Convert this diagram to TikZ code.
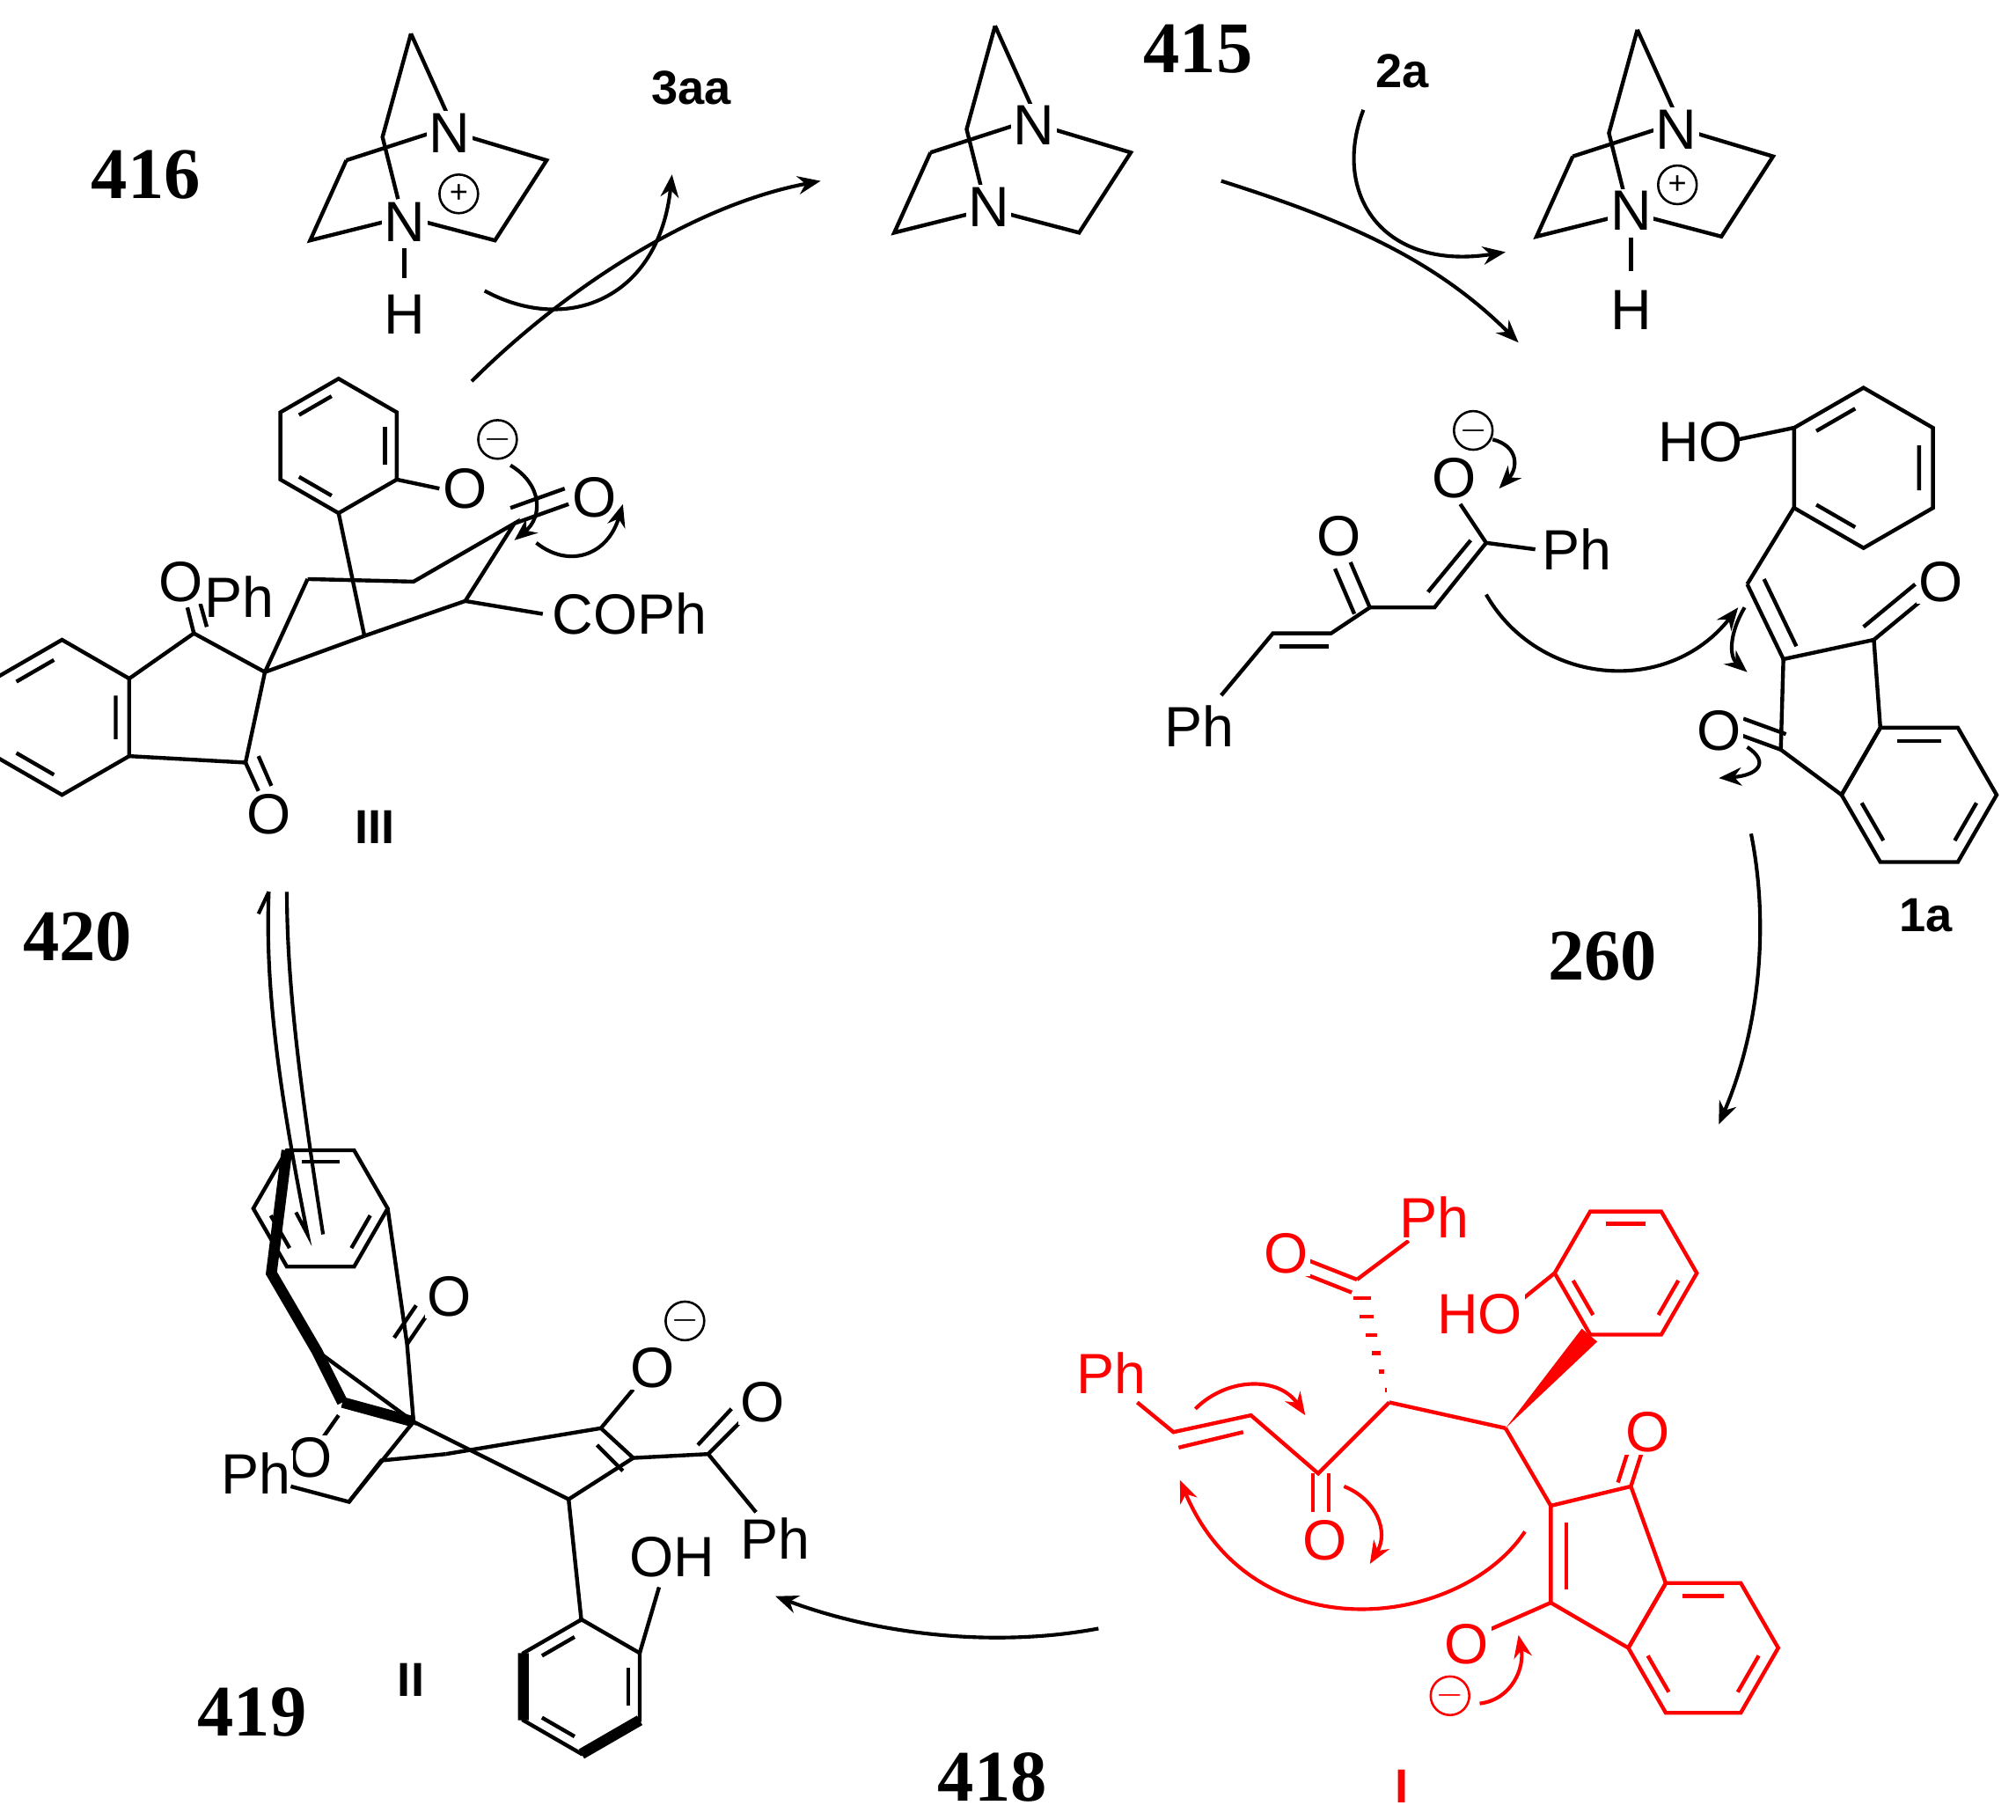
\documentclass[tikz,border=0pt]{standalone}
\usepackage{fontspec}
\setmainfont{Liberation Serif}
\setsansfont{Liberation Sans}
\usetikzlibrary{arrows.meta,calc}
\tikzset{
 bond/.style={line width=0.85pt},
 rb/.style={line width=0.85pt,red},
 thick bond/.style={line width=2.4pt},
 atom/.style={font=\sffamily\fontsize{12.5}{12.5}\selectfont,inner sep=0.5pt,fill=white},
 ratom/.style={atom,text=red},
 num/.style={font=\bfseries\fontsize{16}{16}\selectfont},
 lab/.style={font=\sffamily\bfseries\fontsize{10.5}{10.5}\selectfont},
 arr/.style={line width=0.8pt,-{Stealth[length=5pt,width=4pt]}},
 rarr/.style={arr,red},
 chg/.style={circle,draw,line width=0.5pt,inner sep=0pt,minimum size=8.5pt,font=\sffamily\fontsize{7}{7}\selectfont}
}
\newcommand\benz[5]{%
\begin{scope}[shift={(#1,#2)},rotate=#4]
\draw[#5] (0:#3)--(60:#3)--(120:#3)--(180:#3)--(240:#3)--(300:#3)--cycle;
\foreach \a in {0,120,240}{\draw[#5] ($(\a:0.8*#3)!0.15!(\a+60:0.8*#3)$)--($(\a+60:0.8*#3)!0.15!(\a:0.8*#3)$);}
\end{scope}}
\newcommand\dabco[1]{%
\begin{scope}[shift={#1}]
\draw[bond] (770,20)--(798,82) (770,20)--(748,100)--(760,148);
\draw[bond] (720,118)--(692,180)--(752,165) (720,118)--(785,97);
\draw[bond] (815,100)--(875,118)--(835,180)--(778,165);
\end{scope}}
\begin{document}
\begin{tikzpicture}[x=0.01cm,y=-0.01cm]
\useasboundingbox (0,0) rectangle (1560,1408);
% ---------- DABCO units ----------
\dabco{(0,0)}
\node[atom] (n415a) at (800,97) {N};
\node[atom] (n415b) at (765,160) {N};
\dabco{(-452,6)}
\node[atom] (n416a) at (348,103) {N};
\node[atom] (n416b) at (313,172) {N};
\node[chg] (p416) at (355,150) {+};
\draw[bond] (313,192)--(313,215);
\node[atom] (h416) at (313,243) {H};
\dabco{(497,3)}
\node[atom] (n417a) at (1297,100) {N};
\node[atom] (n417b) at (1262,163) {N};
\node[chg] (p417) at (1298,143) {+};
\draw[bond] (1262,184)--(1262,210);
\node[atom] (h417) at (1262,240) {H};
% ---------- labels ----------
\node[num] (l416) at (113,135) {416};
\node[num] (l415) at (927,38) {415};
\node[lab] (l3aa) at (535,68) {3aa};
\node[lab] (l2a) at (1085,55) {2a};
\node[num] (l260) at (1240,740) {260};
\node[lab] (l1a) at (1490,708) {1a};
\node[num] (l420) at (60,725) {420};
\node[lab] (lIII) at (290,640) {III};
\node[num] (l419) at (195,1325) {419};
\node[lab] (lII) at (318,1300) {II};
\node[num] (l418) at (768,1375) {418};
\node[lab,text=red] (lI) at (1085,1382) {I};
% ---------- cycle arrows ----------
\coordinate (a1) at (365,295); \coordinate (a2) at (635,140);
\draw[arr] (a1) .. controls (430,230) and (530,160) .. (a2);
\draw[arr] (375,225) .. controls (440,260) and (510,230) .. (520,135);
\draw[arr] (945,140) .. controls (1040,170) and (1110,200) .. (1175,265);
\draw[arr] (1055,85) .. controls (1030,150) and (1070,210) .. (1165,195);
\draw[arr] (1355,645) .. controls (1370,720) and (1360,800) .. (1330,870);
\draw[arr] (850,1260) .. controls (770,1275) and (680,1265) .. (600,1235);
\draw[line width=0.8pt] (208,690) .. controls (205,760) and (215,840) .. (238,955) -- (229,938);
\draw[line width=0.8pt] (200,707) -- (208,690);
\draw[line width=0.8pt] (222,690) .. controls (222,760) and (232,840) .. (250,955);
% ---------- 1a ----------
\benz{1442}{362}{62}{30}{bond}
\node[atom] (ho1a) at (1316,342) {HO};
\draw[bond] (1345,340)--(1388,331);
\draw[bond] (1388,393)--(1352,452);
\draw[bond] (1352,452)--(1380,510) (1365,448)--(1390,500);
\draw[bond] (1380,510)--(1450,495)--(1455,563)--(1425,615)--(1378,580)--cycle;
\draw[bond] (1450,495)--(1490,462) (1442,485)--(1482,452);
\node[atom] (o1a1) at (1502,450) {O};
\draw[bond] (1378,580)--(1345,568) (1382,568)--(1349,556);
\node[atom] (o1a2) at (1330,565) {O};
\benz{1485}{615}{60}{0}{bond}
\draw[arr] (1350,470) .. controls (1338,490) and (1338,508) .. (1352,520);
\draw[arr] (1352,578) .. controls (1370,590) and (1360,600) .. (1330,602);
% ---------- enolate ----------
\node[atom] (ph1) at (928,562) {Ph};
\draw[bond] (945,538)--(985,490)--(1030,490)--(1060,470);
\draw[bond] (990,500)--(1028,500);
\draw[bond] (1060,470)--(1045,435) (1048,475)--(1033,440);
\node[atom] (o2) at (1036,415) {O};
\draw[bond] (1060,470)--(1110,470)--(1150,420) (1105,458)--(1138,418);
\draw[bond] (1150,420)--(1130,390);
\node[atom] (o3) at (1125,370) {O};
\node[chg] (m3) at (1140,333) {$-$};
\draw[bond] (1150,420)--(1188,425);
\node[atom] (ph2) at (1220,425) {Ph};
\draw[arr] (1155,340) .. controls (1175,345) and (1175,362) .. (1160,378);
\draw[arr] (1150,460) .. controls (1190,530) and (1290,540) .. (1345,470);
% ---------- III ----------
\benz{262}{345}{52}{30}{bond}
\draw[bond] (307,371)--(340,378);
\node[atom] (o4) at (360,378) {O};
\node[chg] (m4) at (385,340) {$-$};
\draw[bond] (262,397)--(282,492);
\draw[bond] (282,492)--(360,465)--(398,405)--(320,450)--(238,448);
\draw[bond] (398,405)--(440,390) (395,393)--(437,378);
\node[atom] (o5) at (460,385) {O};
\draw[bond] (360,465)--(420,475);
\node[atom,anchor=west] (coph) at (425,475) {COPh};
\draw[bond] (205,520)--(238,448) (205,520)--(282,492);
\node[atom] (ph3) at (185,462) {Ph};
\benz{48}{555}{60}{30}{bond}
\draw[bond] (100,525)--(150,490)--(205,520)--(190,590)--(100,585);
\draw[bond] (150,490)--(145,470) (160,485)--(155,467);
\node[atom] (o6) at (140,450) {O};
\draw[bond] (190,590)--(200,612) (200,585)--(210,608);
\node[atom] (o7) at (208,630) {O};
\draw[arr] (395,360) .. controls (420,375) and (420,400) .. (398,418);
\draw[arr] (415,420) .. controls (440,440) and (470,430) .. (482,390);
% ---------- I (red) ----------
\node[ratom] (ph4) at (860,1062) {Ph};
\draw[rb] (880,1085)--(908,1108)--(968,1095)--(1020,1140)--(1075,1085);
\draw[rb] (912,1120)--(962,1108);
\draw[rb] (1016,1140)--(1016,1170) (1028,1140)--(1028,1170);
\node[ratom] (o8) at (1025,1192) {O};
\foreach \t in {0.1,0.25,...,0.95}{\draw[rb] ($(1075,1085)!\t!(1050,990)+(-\t*8,0)$)--($(1075,1085)!\t!(1050,990)+(\t*8,0)$);}
\draw[rb] (1050,990)--(1012,975) (1046,1000)--(1008,985);
\node[ratom] (o9) at (995,970) {O};
\draw[rb] (1050,990)--(1090,960);
\node[ratom] (ph5) at (1110,942) {Ph};
\draw[rb] (1075,1085)--(1165,1105);
\fill[red] (1165,1105)--(1224,1028)--(1236,1038)--cycle;
\benz{1258}{985}{55}{0}{rb}
\draw[rb] (1172,1010)--(1203,985);
\node[ratom] (ho2) at (1145,1017) {HO};
\draw[rb] (1165,1105)--(1200,1165);
\draw[rb] (1200,1165)--(1262,1150)--(1289,1225)--(1260,1275)--(1200,1240)--cycle;
\draw[rb] (1212,1178)--(1212,1230);
\draw[rb] (1262,1150)--(1270,1125) (1252,1147)--(1260,1122);
\node[ratom] (o10) at (1275,1108) {O};
\benz{1318}{1275}{58}{0}{rb}
\draw[rb] (1200,1240)--(1150,1262);
\node[ratom] (o11) at (1135,1272) {O};
\node[chg,red] (m11) at (1122,1312) {$-$};
\draw[rarr] (1145,1318) .. controls (1170,1315) and (1180,1290) .. (1175,1265);
\draw[rarr] (925,1090) .. controls (950,1065) and (990,1065) .. (1010,1095);
\draw[rarr] (1040,1150) .. controls (1065,1160) and (1075,1185) .. (1060,1210);
\draw[rarr] (1180,1185) .. controls (1130,1260) and (970,1280) .. (913,1145);
% ---------- II ----------
\benz{248}{935}{52}{0}{bond}
\draw[thick bond] (222,890)--(210,985)--(245,1045)--(265,1085);
\draw[bond] (300,935)--(315,1040)--(320,1100)--(245,1045);
\draw[bond] (315,1040)--(332,1015) (305,1035)--(322,1010);
\node[atom] (o12) at (348,1003) {O};
\draw[thick bond] (265,1085)--(320,1100);
\draw[bond] (262,1095)--(248,1115);
\node[atom] (o13) at (240,1128) {O};
\node[atom] (ph6) at (198,1140) {Ph};
\draw[bond] (225,1150)--(270,1162)--(295,1130)--(345,1125);
\draw[bond] (270,1162)--(320,1100);
\draw[bond] (320,1100)--(440,1160);
\draw[bond] (345,1125)--(465,1105)--(490,1128)--(440,1160);
\draw[bond] (462,1118)--(482,1138);
\draw[bond] (465,1105)--(490,1075);
\node[atom] (o14) at (505,1058) {O};
\node[chg] (m14) at (530,1022) {$-$};
\draw[bond] (490,1128)--(548,1125)--(575,1098) (540,1118)--(566,1090);
\node[atom] (o15) at (590,1085) {O};
\draw[bond] (548,1125)--(585,1170);
\node[atom] (ph7) at (600,1190) {Ph};
\draw[bond] (440,1160)--(450,1255);
\benz{450}{1305}{52}{30}{bond}
\draw[thick bond] (405,1279)--(405,1331) (450,1357)--(495,1331);
\draw[bond] (495,1279)--(510,1228);
\node[atom] (oh3) at (520,1205) {OH};
\end{tikzpicture}
\end{document}
